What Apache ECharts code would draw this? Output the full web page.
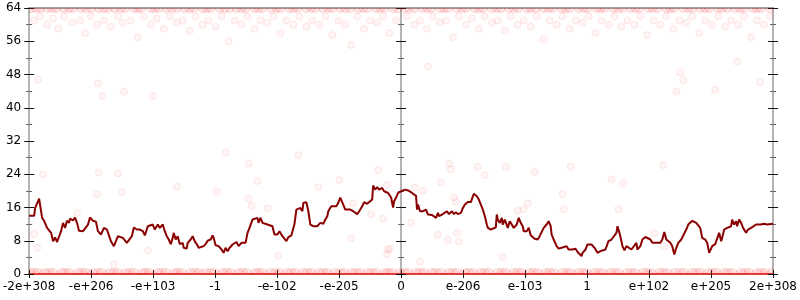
<!DOCTYPE html>
<html><head><meta charset="utf-8">
<script src="https://cdn.jsdelivr.net/npm/echarts@6/dist/echarts.min.js"></script>
<style>html,body{margin:0;padding:0;background:#fff}#c{width:800px;height:300px}</style>
</head><body><div id="c"></div>
<script>
// x tick labels (12 equal bins between ticks)
const xTickLabels = ['-2e+308','-e+206','-e+103','-1','-e-102','-e-205','0','e-206','e-103','1','e+102','e+205','2e+308'];
const HALF_BINS = 373;          // histogram bins from centre to each edge
const TICK_SPAN = 6;            // tick steps from centre to each edge
const yMin = 0, yMax = 64, yStep = 8;

// running line: [bin offset from centre, value]
const lineSamples = [
[-373,14.0],[-368,14.0],[-367,15.9],[-363,18.1],[-360,13.5],[-358,12.8],[-355,11.1],[-353,10.9],[-351,9.9],[-349,7.9],[-347,8.8],[-345,7.7],[-343,7.9],[-341,10.3],[-339,12.3],[-337,11.1],[-335,12.8],[-333,12.3],[-332,13.3],[-329,12.9],[-327,13.6],[-325,12.3],[-323,10.4],[-319,10.3],[-317,10.4],[-314,11.9],[-312,13.6],[-309,12.8],[-306,12.6],[-304,10.3],[-301,9.5],[-298,11.1],[-295,10.7],[-293,11.1],[-291,7.9],[-288,6.7],[-286,6.7],[-284,9.1],[-282,9.5],[-279,8.7],[-277,8.7],[-275,7.5],[-273,7.2],[-270,9.1],[-268,11.2],[-265,10.7],[-262,10.7],[-259,10.3],[-257,9.3],[-254,11.5],[-252,11.2],[-249,11.9],[-247,10.7],[-244,11.9],[-242,11.1],[-239,11.9],[-237,10.3],[-235,9.1],[-233,8.3],[-231,7.2],[-229,8.7],[-228,9.9],[-226,8.3],[-224,9.1],[-222,7.2],[-219,7.5],[-218,6.3],[-215,6.1],[-214,7.5],[-211,8.3],[-209,9.1],[-207,7.9],[-205,7.2],[-203,6.3],[-201,5.9],[-198,6.7],[-196,7.2],[-194,8.0],[-191,8.3],[-189,9.3],[-188,8.7],[-186,6.9],[-183,6.7],[-180,5.9],[-178,5.1],[-176,6.3],[-174,5.5],[-172,6.3],[-169,7.1],[-167,7.5],[-165,7.7],[-163,6.7],[-160,7.5],[-158,7.1],[-156,7.5],[-154,9.9],[-152,11.1],[-149,13.1],[-147,13.1],[-144,13.5],[-143,12.3],[-141,13.5],[-139,12.3],[-137,11.9],[-134,11.9],[-132,12.3],[-129,11.5],[-127,9.5],[-124,9.5],[-122,10.3],[-119,9.1],[-117,8.5],[-115,7.9],[-113,8.9],[-110,9.3],[-108,9.1],[-107,11.9],[-105,15.5],[-103,15.1],[-101,15.9],[-99,15.1],[-98,17.1],[-95,17.3],[-93,15.1],[-91,11.9],[-88,11.5],[-86,11.9],[-84,11.5],[-81,12.3],[-78,12.1],[-76,13.1],[-74,13.9],[-73,15.1],[-70,16.3],[-68,16.7],[-65,16.3],[-63,17.1],[-61,18.4],[-58,16.7],[-56,15.5],[-54,15.1],[-51,15.5],[-48,15.1],[-46,15.5],[-44,14.4],[-42,15.1],[-39,16.3],[-37,17.3],[-34,16.9],[-32,16.7],[-29,17.9],[-28,21.3],[-26,20.3],[-24,20.9],[-22,20.3],[-19,20.7],[-17,19.9],[-15,20.3],[-13,19.5],[-10,18.4],[-8,16.0],[-7,17.5],[-5,18.4],[-3,19.5],[0,19.9],
[1,19.9],[4,20.3],[7,20.1],[9,20.5],[11,19.5],[12,19.3],[15,18.8],[16,15.5],[17,16.7],[19,15.1],[21,15.5],[22,15.1],[25,15.5],[27,14.3],[29,14.7],[31,14.2],[33,14.4],[35,13.5],[37,14.7],[38,13.9],[41,14.3],[43,14.7],[46,15.1],[48,14.4],[51,15.1],[53,14.4],[55,14.9],[57,14.4],[60,14.7],[62,15.9],[64,16.7],[66,16.3],[67,17.3],[70,17.3],[72,18.7],[73,19.3],[76,18.7],[78,17.9],[80,16.7],[82,15.5],[84,13.9],[86,11.9],[87,11.1],[90,10.7],[92,10.9],[95,11.2],[96,14.3],[97,13.1],[99,12.3],[101,13.5],[102,11.9],[104,13.1],[107,11.1],[109,12.7],[111,12.7],[113,11.1],[116,11.9],[118,13.5],[120,12.3],[122,11.5],[123,10.3],[126,10.3],[128,11.1],[130,9.3],[132,9.6],[134,8.5],[137,8.3],[139,9.1],[141,9.3],[143,11.1],[146,11.9],[148,12.7],[150,11.5],[151,9.5],[153,8.3],[156,6.7],[158,6.1],[161,6.3],[163,5.9],[166,6.7],[168,5.9],[170,6.3],[172,5.9],[175,6.1],[177,5.3],[179,5.1],[181,4.3],[182,5.1],[185,5.9],[187,7.1],[189,7.5],[191,7.1],[194,6.3],[197,5.1],[200,5.5],[202,5.7],[205,5.9],[207,5.7],[208,7.9],[211,8.3],[213,8.3],[216,9.9],[217,11.5],[219,9.9],[221,7.9],[222,6.7],[224,5.7],[226,6.7],[228,6.3],[231,5.9],[233,6.3],[236,7.5],[237,5.9],[240,6.7],[242,8.3],[245,8.9],[247,8.9],[250,8.3],[252,7.5],[256,7.5],[258,7.9],[260,7.5],[262,8.3],[264,10.1],[266,8.3],[268,8.7],[270,7.5],[272,6.7],[274,4.7],[276,6.3],[278,7.5],[281,8.3],[283,8.7],[286,10.7],[288,11.9],[290,11.5],[292,12.8],[294,13.1],[296,12.3],[298,12.3],[300,11.1],[302,8.7],[305,8.3],[307,7.5],[309,5.1],[311,5.1],[312,6.7],[315,7.2],[317,7.5],[319,9.9],[321,7.9],[322,8.7],[324,10.7],[326,10.3],[327,11.1],[329,10.7],[331,11.5],[332,13.1],[334,11.9],[336,12.7],[337,11.5],[339,13.1],[341,12.3],[343,11.1],[346,9.9],[348,10.7],[351,11.1],[353,11.1],[356,11.9],[358,12.1],[361,11.9],[362,11.5],[364,12.1],[367,11.9],[369,12.1],[373,12.1]
];

// faint sample dots: rows at the extremes (bin offsets)
const topRowBins = [-371,-366,-362,-355,-350,-346,-338,-333,-329,-321,-316,-311,-303,-298,-294,-287,-281,-277,-268,-264,-261,-251,-247,-243,-235,-230,-225,-217,-212,-208,-199,-195,-191,-182,-177,-172,-165,-160,-156,-147,-143,-139,-130,-125,-121,-112,-108,-104,-95,-90,-86,-78,-73,-69,-61,-56,-51,-43,-38,-34,-25,-21,-17,-8,-3,4,8,13,21,26,30,39,43,47,56,61,65,74,78,82,91,96,100,108,113,117,126,130,135,143,148,152,161,165,169,178,183,187,196,200,204,213,218,222,230,235,239,248,252,257,266,270,274,283,288,292,300,305,309,318,322,327,335,340,344,353,357,361,370];
const bottomRowBins = [-372,-368,-364,-357,-353,-349,-340,-337,-333,-324,-320,-316,-309,-304,-300,-292,-288,-284,-276,-272,-268,-259,-256,-252,-244,-240,-236,-227,-224,-220,-211,-207,-203,-196,-191,-187,-179,-175,-171,-163,-159,-155,-146,-143,-139,-131,-126,-122,-114,-110,-106,-98,-94,-90,-82,-78,-74,-66,-61,-57,-49,-45,-41,-33,-29,-25,-16,-13,-9,-1,3,7,15,19,23,31,35,40,48,52,56,64,68,72,80,84,88,97,101,105,113,117,121,129,133,137,145,149,153,162,166,170,178,182,186,194,198,202,210,214,218,227,231,235,243,247,251,259,263,267,275,280,284,292,296,300,308,312,316,324,328,332,341,345,349,357,361,365,372];
// scattered dots near the top: [bin, value]
const nearTopDots = [[-368,61],[-362,62],[-355,60],[-349,61.5],[-344,59],[-338,62],[-330,60.5],[-322,61],[-317,58],[-311,62],[-305,60],[-298,61],[-291,59.5],[-284,62],[-279,60.5],[-271,61],[-264,57],[-258,62],[-251,60],[-245,61.5],[-238,59],[-232,62],[-225,60.5],[-219,61],[-212,58.5],[-206,62],[-199,60],[-193,61],[-186,59.5],[-180,62],[-173,56],[-167,61],[-160,60],[-154,62],[-147,59],[-141,61],[-134,60.5],[-128,62],[-121,58],[-115,61],[-108,60],[-102,62],[-95,59.5],[-89,61],[-82,60],[-76,62],[-69,57.5],[-63,61],[-56,60],[-44,62],[-37,59],[-31,61],[-24,60.5],[-18,62],[-12,58],[-5,61],[6,62],[13,60],[19,61],[26,59],[32,62],[39,60.5],[45,61],[52,57],[58,62],[65,60],[71,61.5],[78,59],[84,62],[91,60.5],[97,61],[104,58.5],[110,62],[117,60],[123,61],[130,59.5],[136,62],[143,56.5],[149,61],[156,60],[162,62],[169,59],[175,61],[182,60.5],[188,62],[195,58],[201,61],[208,60],[214,62],[221,59.5],[227,61],[234,60],[240,62],[247,57.5],[253,61],[260,60],[266,62],[273,59],[279,61],[286,60.5],[292,62],[299,58],[305,61],[312,60],[318,62],[325,59.5],[331,61],[338,60],[344,62],[351,57],[357,61],[364,60],[370,62]];
// scattered dots in the middle: [bin, value]
const midDots = [[-359,24],[-303,24.4],[-284,24.2],[-305,19.2],[-280,19.7],[-325,14.7],[-176,29.2],[-103,28.6],[-153,26.6],[-144,22.4],[-185,19.8],[-225,21],[-62,22.6],[-23,25],[-18,13.3],[-134,15.8],[-48,17],[48,26.6],[50,25.2],[77,25.8],[105,25.8],[84,23.8],[134,24.6],[170,25.8],[263,26.2],[40,22],[14,20.8],[22,20],[211,22.8],[223,21.8],[162,19.2],[53,18.4],[55,17.4],[127,17],[117,15.2],[123,15.6],[163,15.6],[218,15.6],[10,12.3],[56,9.9],[37,9.4],[47,8.2],[58,7.8],[254,9.8],[264,6.6],[-364,46.8],[-304,45.9],[-299,42.8],[-278,43.9],[-249,42.8],[337,51.1],[280,48.5],[283,46.6],[276,43.9],[315,44.3],[360,46.1],[-50,55.1],[27,49.9],[-30,14.4],[-50,8.6],[-13,5.9],[-14,4.8],[19,3],[-368,9.6],[-365,6.3],[-254,5.6],[-288,2.3],[-123,4.5],[-11,6.1],[102,4.1],[-153,18.1],[-150,16.4],[-83,20.9],[-14,21.5]];

const binToX = b => b * TICK_SPAN / HALF_BINS;

// clipped faint circles drawn via a custom series so the plot area cuts them
function dotSeries(points, r, fill, stroke) {
  return {
    type:'custom', clip:true, z:1, silent:true,
    data: points,
    renderItem: (params, api) => {
      const p = api.coord([api.value(0), api.value(1)]);
      return {type:'circle', shape:{cx:p[0], cy:p[1], r:r}, style:{fill:fill, stroke:stroke, lineWidth:1}};
    }
  };
}

const chart = echarts.init(document.getElementById('c'));
const font = 'DejaVu Sans';
function yAx(pos, inside, extra) {
  return Object.assign({
    type:'value', min:yMin, max:yMax, interval:yStep, position:pos,
    axisLine:{show:true, onZero:false, lineStyle:{color:'#b4b4b4', width:2}},
    axisTick:{show:true, inside:inside, length:5, lineStyle:{color:'#111', width:1}},
    minorTick:{show:true, splitNumber:2, length:3, lineStyle:{color:'#666', width:1}},
    axisLabel:{show:false}, splitLine:{show:false}
  }, extra||{});
}
const yAxes = [
  yAx('left', false, {axisLabel:{show:true, margin:8, color:'#000', fontFamily:font, fontSize:12}}),
  yAx('left', true),
  yAx('right', false),
  yAx('right', true),
  yAx('left', false, {axisLine:{show:true, onZero:true, lineStyle:{color:'#b4b4b4', width:2}}}),
  yAx('left', true, {axisLine:{show:true, onZero:true, lineStyle:{color:'#b4b4b4', width:2}}})
];
function xAx(pos, inside, extra) {
  return Object.assign({
    type:'value', min:-TICK_SPAN, max:TICK_SPAN, interval:1, position:pos,
    axisLine:{show:false, onZero:false},
    axisTick:{show:true, inside:inside, length:4, lineStyle:{color:'#111', width:1}},
    axisLabel:{show:false}, splitLine:{show:false}
  }, extra||{});
}
const xAxes = [
  xAx('bottom', false, {axisLine:{show:true, onZero:false, lineStyle:{color:'rgba(222,40,40,0.9)', width:2}},
    axisLabel:{show:true, margin:7, color:'#000', fontFamily:font, fontSize:12,
    formatter: v => xTickLabels[Math.round(v + TICK_SPAN)]}}),
  xAx('bottom', true),
  xAx('top', false, {axisTick:{show:false}, axisLine:{show:true, onZero:false, lineStyle:{color:'#a0a0a0', width:2}}})
];

const rowFill = 'rgba(255,40,40,0.10)', rowStroke = 'rgba(230,0,0,0.12)';
const dotFill = 'rgba(255,60,60,0.05)', dotStroke = 'rgba(230,0,0,0.08)';

chart.setOption({
  animation:false,
  grid:{left:28, right:26, top:8, bottom:26, containLabel:false},
  xAxis:xAxes, yAxis:yAxes,
  series:[
    dotSeries(topRowBins.map(b=>[binToX(b),64]), 4.5, rowFill, rowStroke),
    dotSeries(nearTopDots.map(d=>[binToX(d[0]),d[1]]), 3.5, dotFill, dotStroke),
    dotSeries(midDots.map(d=>[binToX(d[0]),d[1]]), 3.5, dotFill, dotStroke),
    dotSeries(bottomRowBins.map(b=>[binToX(b),0]), 5.5, rowFill, rowStroke),
    {type:'line', showSymbol:false, symbol:'none', lineStyle:{color:'#8b0000', width:2}, data: lineSamples.map(d=>[binToX(d[0]),d[1]]), z:5}
  ]
});
</script></body></html>
